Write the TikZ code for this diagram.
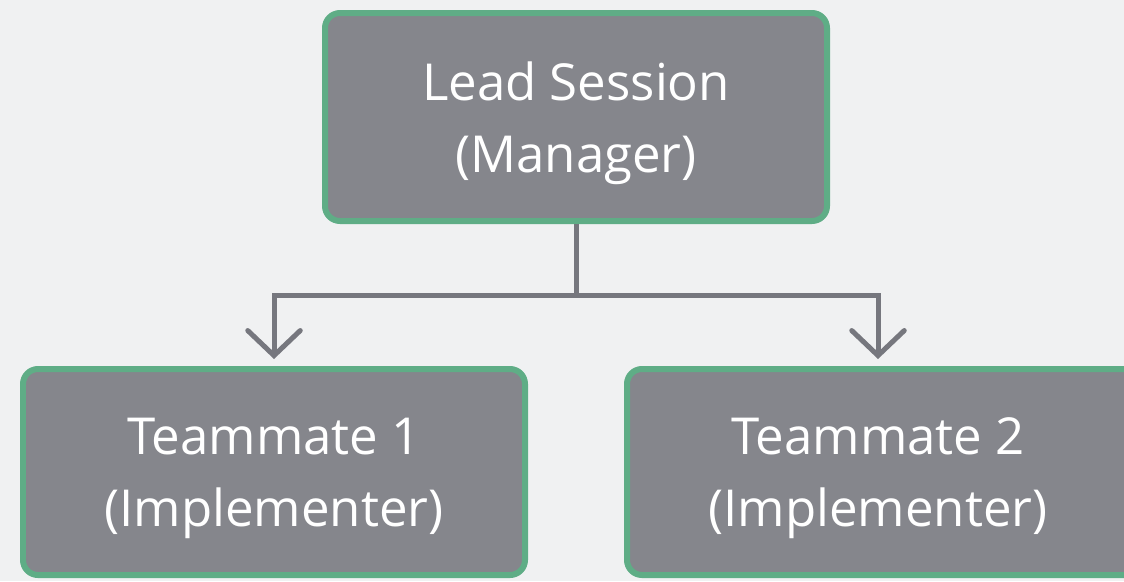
\documentclass[tikz,border=0pt]{standalone}
\usepackage{fontspec}
\setmainfont{Open Sans}
\usetikzlibrary{arrows.meta}
\pgfdeclarelayer{background}
\pgfsetlayers{background,main}
\definecolor{boardGray}{HTML}{F0F1F2}
\definecolor{boxGray}{HTML}{85868C}
\definecolor{boxGreen}{HTML}{5FAD86}
\definecolor{lineGray}{HTML}{76777E}
\tikzstyle{rolePart} = [draw=boxGreen, line width=0.12cm, fill=boxGray, rounded corners=0.3cm, text=white, align=center, font=\fontsize{29}{41}\selectfont, text depth=0pt, minimum width=10.04cm, minimum height=4.16cm]
\tikzstyle{flowLine} = [draw=lineGray, line width=0.1cm, -{Straight Barb[length=0.5cm, width=1.05cm, line cap=round]}, shorten >=0.14cm]

\begin{document}
\begin{tikzpicture}
		\useasboundingbox (0,0) rectangle (22.48,-11.62);
		\clip (0,0) rectangle (22.48,-11.62);
		\begin{pgfonlayer}{background}
			\fill[boardGray] (0,0) rectangle (22.48,-11.62);
		\end{pgfonlayer}

		\node (lead) [rolePart] at (11.52,-2.34) {Lead Session\\(Manager)};
		\node (mate1) [rolePart, minimum height=4.12cm] at (5.48,-9.44) {Teammate 1\\(Implementer)};
		\node (mate2) [rolePart, minimum height=4.12cm, minimum width=10.44cm, xshift=0.2cm] at (17.56,-9.44) {\hspace*{-0.4cm}Teammate 2\\\hspace*{-0.4cm}(Implementer)};

		% Helpers to split the line from the lead
		\path (lead.south)+(0,-1.42) coordinate (split);
		\path (mate2.north)+(-0.2,0) coordinate (mate2In);

		\path [flowLine] (lead) -- (split) -| (mate1);
		\path [flowLine] (split) -| (mate2In);
	\end{tikzpicture}
\end{document}
